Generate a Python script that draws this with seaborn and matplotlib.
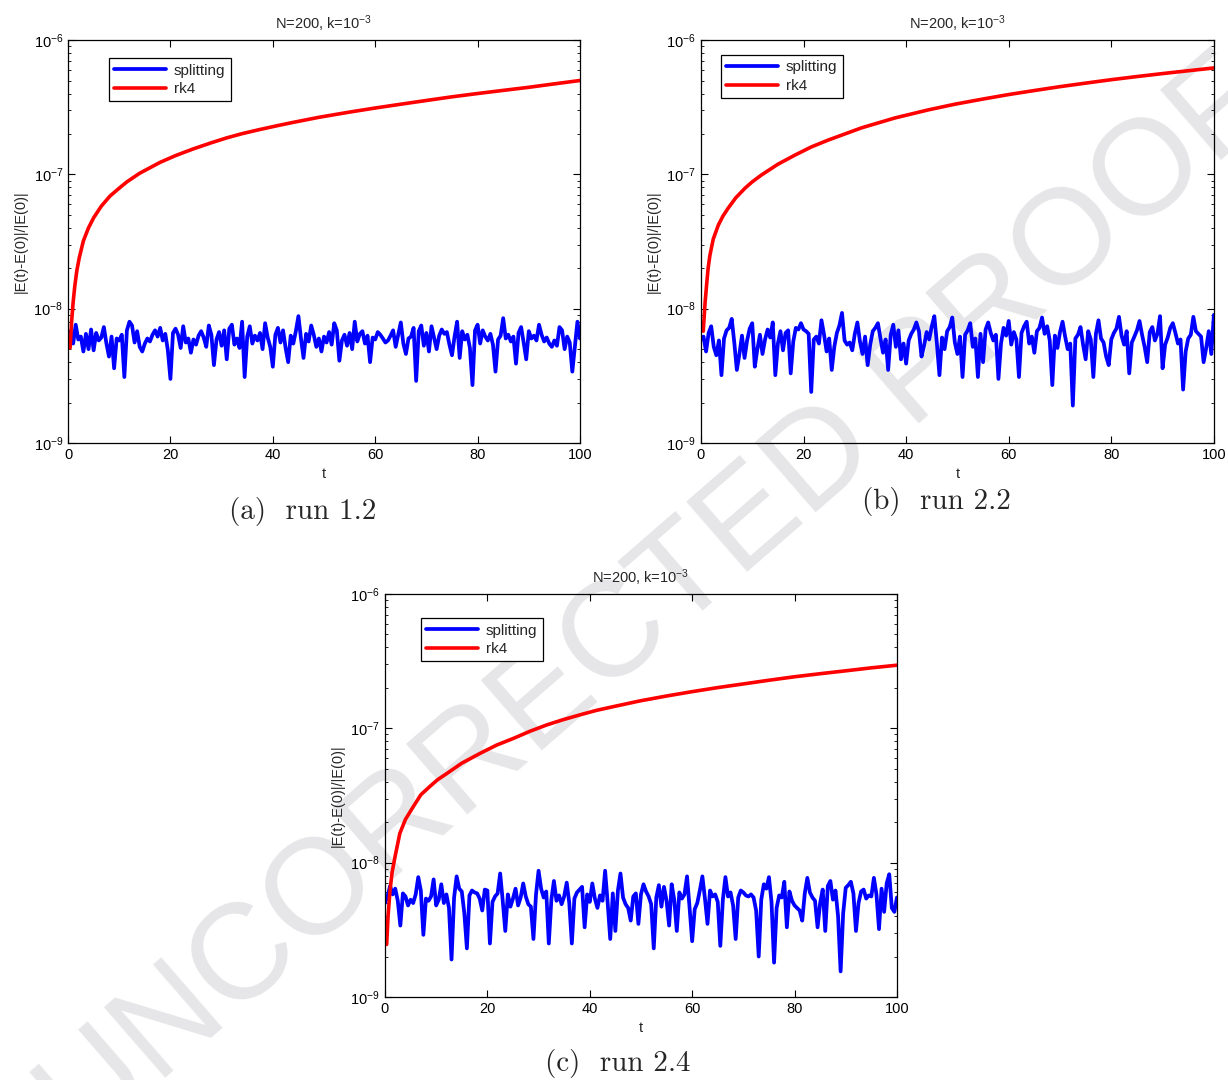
import numpy as np
import pandas as pd
import matplotlib
matplotlib.use('Agg')
import matplotlib.pyplot as plt
import seaborn as sns

sns.set_style('ticks')
plt.rcParams['font.family'] = ['Liberation Sans', 'DejaVu Sans']
plt.rcParams['mathtext.fontset'] = 'custom'
plt.rcParams['mathtext.rm'] = 'Liberation Sans'
plt.rcParams['mathtext.it'] = 'Liberation Sans:italic'

# splitting: t = 0, 0.5, ..., 100, values in units of 1e-9
t_split = np.arange(0, 100.5, 0.5)

split_a = [5.2, 6.8, 5.5, 7.6, 5.9, 6.2, 4.8, 6.5, 5.0, 7.0, 4.9, 6.6, 5.8, 6.1, 7.3, 5.5, 4.4, 6.2, 3.6, 6.0,
           5.8, 6.4, 3.1, 6.9, 8.0, 7.5, 5.6, 6.8, 5.2, 4.8, 5.5, 6.0, 5.7, 6.4, 6.9, 6.2, 7.2, 5.8, 6.5, 4.9,
           3.0, 6.6, 7.1, 6.4, 5.1, 7.4, 5.6, 6.0, 4.7, 5.9, 5.4, 6.3, 6.8, 6.1, 5.2, 7.5, 6.4, 3.8, 5.9, 6.7,
           5.3, 6.9, 4.2, 7.1, 7.6, 5.4, 6.0, 5.1, 8.0, 3.1, 6.2, 7.4, 5.5, 6.3, 5.8, 6.6, 5.0, 7.8, 6.1, 5.2,
           3.7, 6.4, 7.2, 5.6, 6.9, 5.1, 4.0, 6.3, 5.5, 6.8, 8.8, 6.0, 4.3, 6.5, 5.7, 7.5, 6.4, 5.2, 6.0, 4.8,
           6.2, 5.6, 6.7, 5.4, 7.8, 6.9, 4.1, 5.8, 6.4, 5.3, 6.6, 5.0, 8.0, 5.7, 6.5, 6.8, 5.5, 6.3, 4.0, 6.1,
           5.9, 6.7, 6.4, 6.0, 5.6, 5.8, 6.3, 6.9, 5.2, 6.4, 7.9, 5.5, 4.6, 6.0, 6.2, 7.2, 2.9, 6.8, 7.5, 5.3,
           6.6, 4.8, 7.4, 6.1, 5.0, 6.3, 7.0, 6.5, 6.7, 5.4, 4.5, 6.2, 8.0, 4.3, 6.8, 5.9, 6.4, 5.1, 2.7, 6.9,
           7.6, 5.5, 6.9, 6.2, 5.8, 6.5, 5.4, 3.4, 5.9, 6.3, 8.5, 6.0, 6.4, 5.7, 6.2, 3.9, 6.6, 7.3, 5.6, 4.2,
           6.8, 6.0, 6.3, 5.8, 7.6, 6.4, 5.7, 6.1, 5.5, 5.2, 5.8, 5.3, 7.3, 6.9, 5.0, 6.2, 5.6, 3.4, 5.2, 8.0, 6.0]

split_b = [5.9, 6.2, 4.8, 6.6, 7.4, 5.2, 4.5, 5.8, 3.2, 6.0, 6.9, 7.2, 8.4, 5.6, 3.5, 4.6, 6.3, 4.3, 5.8, 7.1,
           7.8, 3.7, 5.0, 6.4, 4.6, 5.9, 7.0, 6.1, 7.9, 3.2, 5.5, 6.8, 4.9, 6.6, 6.9, 3.3, 5.7, 7.2, 7.0, 7.8,
           7.0, 6.8, 6.5, 2.4, 5.9, 6.2, 5.5, 8.2, 6.4, 4.8, 6.0, 3.5, 5.2, 6.6, 7.5, 9.3, 5.8, 5.4, 5.6, 4.9,
           6.5, 7.9, 5.7, 4.6, 6.2, 3.8, 5.4, 6.8, 7.2, 7.8, 6.0, 4.7, 5.9, 3.5, 6.4, 7.6, 5.2, 6.9, 4.2, 5.5,
           3.9, 5.8, 6.5, 7.0, 7.9, 6.8, 4.4, 5.3, 6.7, 5.9, 7.4, 8.8, 5.5, 3.2, 6.1, 5.0, 6.8, 7.3, 8.6, 5.6,
           4.6, 6.2, 3.1, 6.4, 6.9, 7.8, 5.2, 6.0, 3.1, 6.5, 4.0, 7.0, 7.9, 6.6, 5.8, 6.4, 3.0, 5.5, 7.2, 6.3,
           8.1, 5.4, 6.7, 5.9, 3.1, 6.6, 7.4, 8.0, 5.5, 6.2, 4.7, 6.8, 7.2, 8.6, 6.5, 7.4, 5.8, 2.7, 6.3, 5.1,
           6.7, 8.0, 6.2, 5.0, 5.5, 1.9, 6.0, 6.4, 7.3, 5.4, 4.2, 6.8, 5.9, 3.1, 6.5, 8.2, 6.0, 5.6, 4.4, 3.8,
           5.9, 6.6, 7.1, 8.7, 6.3, 5.4, 6.8, 3.3, 5.6, 6.2, 6.9, 8.1, 6.4, 5.2, 4.0, 6.7, 7.3, 5.8, 6.5, 8.8,
           3.6, 5.4, 6.1, 7.2, 7.8, 6.6, 5.5, 5.9, 2.5, 4.8, 6.0, 6.4, 8.7, 6.8, 6.5, 6.2, 4.0, 5.1, 6.8, 4.6, 9.0]

split_c = [5.0, 5.6, 6.7, 5.8, 6.4, 5.2, 3.4, 5.9, 5.6, 4.8, 5.3, 5.0, 5.8, 7.8, 6.2, 2.9, 5.4, 5.2, 5.6, 7.5,
           4.8, 5.3, 6.9, 5.0, 5.8, 4.6, 1.9, 5.5, 7.9, 6.4, 6.1, 4.2, 2.3, 5.7, 6.2, 6.0, 5.9, 5.4, 4.4, 6.3,
           6.2, 2.5, 5.1, 5.6, 5.9, 8.3, 5.2, 3.1, 5.8, 4.7, 5.4, 6.4, 4.8, 5.5, 7.0, 5.6, 4.9, 4.7, 2.7, 5.8,
           8.7, 6.4, 5.5, 6.1, 2.5, 5.3, 7.3, 5.2, 5.7, 4.9, 5.6, 7.1, 5.0, 2.5, 5.4, 6.0, 6.3, 6.6, 3.3, 5.8,
           5.1, 7.0, 5.4, 4.6, 5.7, 5.2, 8.7, 5.0, 2.7, 5.9, 3.1, 6.2, 8.3, 5.5, 4.9, 4.6, 3.7, 5.6, 5.9, 3.5,
           5.8, 6.9, 6.1, 5.6, 4.9, 2.3, 5.5, 6.8, 4.7, 6.6, 5.2, 3.4, 6.9, 5.3, 3.1, 6.0, 5.4, 5.8, 7.9, 4.6,
           2.6, 4.5, 5.0, 6.2, 7.9, 5.4, 3.5, 6.2, 5.6, 5.8, 5.1, 2.4, 5.3, 7.8, 5.6, 6.0, 4.8, 2.7, 5.5, 6.2,
           6.0, 5.7, 5.6, 5.8, 5.5, 4.4, 2.0, 5.3, 6.9, 6.4, 7.8, 5.1, 1.8, 4.6, 5.7, 5.5, 7.2, 3.3, 6.1, 5.2,
           4.8, 4.6, 4.4, 3.7, 5.9, 7.7, 6.0, 5.5, 5.2, 3.3, 5.0, 6.3, 3.1, 6.7, 7.3, 5.3, 6.2, 4.0, 1.55, 4.2,
           6.5, 6.8, 7.2, 5.9, 3.1, 5.0, 6.1, 6.3, 5.4, 5.7, 5.6, 7.7, 5.8, 3.2, 6.4, 4.3, 7.0, 8.2, 4.6, 4.3, 5.5]

# rk4 error, values in units of 1e-9
t_rk_a = [0.4, 0.7, 1.0, 1.3, 1.7, 2.2, 3.0, 4.0, 5.0, 6.5, 8.2, 10, 11.5, 14, 18, 21, 24.5, 28, 31, 34,
          37.5, 41, 44, 49, 55, 60, 65, 70, 75, 80, 85, 90, 95, 100]
rk_a = [5.1, 8.0, 11.2, 14.5, 19, 24, 32, 40, 47.5, 58, 69, 79, 88, 102, 123, 138, 155, 172, 187, 201,
        216, 231, 244, 266, 291, 312, 333, 355, 378, 400, 422, 445, 472, 500]

t_rk_b = [0.45, 0.8, 1.1, 1.4, 1.75, 2.4, 3.4, 4.3, 5.3, 6.8, 8.6, 10, 11.8, 15, 18.3, 21.5, 24.8, 31.3,
          37.8, 44.3, 49.5, 55, 60, 65, 70, 75, 80, 85, 90, 95, 100]
rk_b = [6.8, 11, 15, 20, 25, 33, 42, 49, 56, 67, 79, 88, 99, 119, 139, 160, 180, 222,
        263, 302, 333, 364, 393, 421, 450, 478, 507, 535, 563, 591, 620]

t_rk_c = [0.33, 0.6, 1.0, 1.4, 1.95, 2.9, 4.0, 5.5, 7.0, 8.8, 10.3, 12.05, 15, 18.55, 21.8, 25.05, 28.3,
          31.6, 34.8, 38.1, 41.3, 44.6, 49.8, 55, 60, 65, 70, 75, 80, 85, 90, 95, 100]
rk_c = [2.46, 4.0, 6.3, 8.5, 11, 16.5, 21, 26, 32, 37, 41.5, 46, 55, 65, 75, 84, 95,
        106, 116, 126, 136, 145, 160, 174, 187.5, 201, 214, 228, 242, 255, 268, 282, 295]

panels = [
    ('(a)  run 1.2', split_a, t_rk_a, rk_a, [0.0554, 0.5898, 0.4169, 0.3731], (0.08, 0.955), (303, 512)),
    ('(b)  run 2.2', split_b, t_rk_b, rk_b, [0.5708, 0.5898, 0.4177, 0.3731], (0.039, 0.963), (936, 502)),
    ('(c)  run 2.4', split_c, t_rk_c, rk_c, [0.3135, 0.0769, 0.4169, 0.3731], (0.07, 0.94), (618, 1063)),
]

fig = plt.figure(figsize=(12.28, 10.8), dpi=100)
fig.patch.set_facecolor('white')

# proof watermark behind the axes
fig.text(0.535, 0.44, 'UNCORRECTED PROOF', rotation=41, fontsize=98, color='#e6e6e8',
         ha='center', va='center', zorder=-1, family='Liberation Sans')

for caption, split, t_rk, rk, pos, leg_pos, cap_xy in panels:
    ax = fig.add_axes(pos)
    ax.patch.set_alpha(0)
    df_s = pd.DataFrame({'t': t_split, 'err': np.array(split) * 1e-9})
    df_r = pd.DataFrame({'t': t_rk, 'err': np.array(rk) * 1e-9})
    sns.lineplot(data=df_s, x='t', y='err', ax=ax, color='#0000ff', lw=2.7, label='splitting',
                 estimator=None, sort=False)
    sns.lineplot(data=df_r, x='t', y='err', ax=ax, color='#ff0000', lw=2.6, label='rk4',
                 estimator=None, sort=False)
    ax.set_yscale('log')
    ax.set_xlim(0, 100)
    ax.set_ylim(1e-9, 1e-6)
    ax.set_xticks([0, 20, 40, 60, 80, 100])
    ax.tick_params(which='both', direction='in', top=True, right=True, labelsize=10.5, colors='black')
    ax.tick_params(which='major', length=5, width=0.8)
    ax.tick_params(which='minor', length=2.5, width=0.6)
    ax.tick_params(axis='x', which='minor', bottom=False, top=False)
    for sp in ax.spines.values():
        sp.set_visible(True)
        sp.set_linewidth(0.9)
        sp.set_color('black')
    ax.set_xlabel('t', fontsize=10.5, labelpad=4)
    ax.set_ylabel('|E(t)-E(0)|/|E(0)|', fontsize=10.5, labelpad=4)
    ax.set_title('N=200, k=10$^{-3}$', fontsize=10.5, pad=8)
    leg = ax.legend(loc='upper left', bbox_to_anchor=leg_pos, borderaxespad=0, fontsize=11,
                    fancybox=False, framealpha=1, edgecolor='black', handlelength=3.4,
                    handletextpad=0.5, borderpad=0.35, labelspacing=0.3)
    leg.get_frame().set_linewidth(0.9)
    fig.text(cap_xy[0] / 1228, 1 - cap_xy[1] / 1080, caption, fontsize=21, family='cmr10',
             ha='center', va='center')

fig.savefig('out.png', dpi=100, facecolor='white')
